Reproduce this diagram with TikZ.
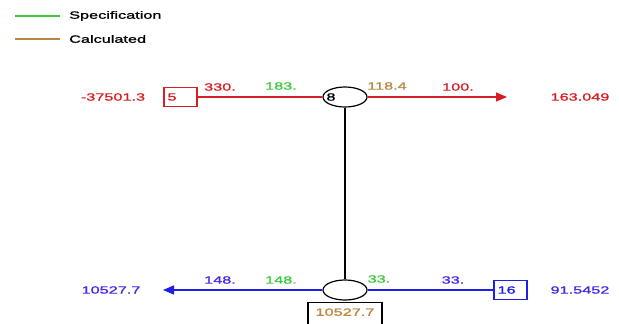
\documentclass[tikz,border=0pt]{standalone}
\usepackage{fontspec}
\setmainfont{Liberation Sans}[FakeStretch=1.55,FakeBold=1.2]
\usetikzlibrary{shapes.geometric,arrows.meta}
\definecolor{specgreen}{RGB}{60,200,60}
\definecolor{calcbrown}{RGB}{185,135,65}
\definecolor{streamred}{RGB}{215,30,35}
\definecolor{streamblue}{RGB}{30,30,235}
\definecolor{valblue}{RGB}{70,40,235}
\tikzset{
  val/.style={inner sep=0pt, font=\fontsize{10.5}{12}\selectfont},
  unitbox/.style={draw, rectangle, line width=1.2pt, minimum height=19pt, text width=26pt, inner sep=3.5pt, align=left, font=\fontsize{10.5}{12}\selectfont},
  mixer/.style={draw=black, ellipse, minimum width=44pt, minimum height=20pt, inner sep=0pt, line width=1.2pt},
  flowline/.style={line width=1.4pt},
  flowtip/.style={-{Triangle[length=11pt,width=9pt]}}
}
\begin{document}
\begin{tikzpicture}[x=1pt,y=-1pt]
\useasboundingbox (0,0) rectangle (619,324);
\fill[white] (0,0) rectangle (619,324);

% legend
\coordinate (lg1a) at (15,16); \coordinate (lg1b) at (60,16);
\coordinate (lg2a) at (15,39); \coordinate (lg2b) at (60,39);
\draw[specgreen, flowline] (lg1a) -- (lg1b);
\draw[calcbrown, flowline] (lg2a) -- (lg2b);
\node[val, anchor=west] (lgspec) at (69,16) {Specification};
\node[val, anchor=west] (lgcalc) at (69,39) {Calculated};

% upper stream
\node[unitbox, draw=streamred, text=streamred] (u5) at (180.5,97) {5};
\node[mixer] (m8) at (345,97) {};
\node[val] (t8) at (331,97) {8};
\coordinate (outR) at (507,97);
\draw[streamred, flowline] (u5.east) -- (m8.west);
\draw[streamred, flowline, flowtip] (m8.east) -- (outR);

\node[val, text=streamred] (q5) at (113,97) {-37501.3};
\node[val, text=streamred] (a1) at (220,87) {330.};
\node[val, text=specgreen] (a2) at (281,86) {183.};
\node[val, text=calcbrown] (a3) at (387,86) {118.4};
\node[val, text=streamred] (a4) at (458,87) {100.};
\node[val, text=streamred] (qR) at (580,97) {163.049};

% connection between mixers
\node[mixer] (m9) at (345,290) {};
\draw[black, line width=1.1pt] (m8.south) -- (m9.north);

% lower stream
\node[unitbox, draw=streamblue, text=streamblue] (u16) at (510.5,290) {16};
\coordinate (outL) at (163,290);
\draw[streamblue, flowline, flowtip] (m9.west) -- (outL);
\draw[streamblue, flowline] (m9.east) -- (u16.west);
\node[draw=black, line width=1.2pt, minimum width=74pt, minimum height=24pt, inner sep=0pt, anchor=north, text=calcbrown, font=\fontsize{10.5}{12}\selectfont, text depth=5pt] (q9) at (345,302) {10527.7};

\node[val, text=valblue] (qL) at (111,290) {10527.7};
\node[val, text=valblue] (b1) at (220,280) {148.};
\node[val, text=specgreen] (b2) at (281,280) {148.};
\node[val, text=specgreen] (b3) at (379,279) {33.};
\node[val, text=valblue] (b4) at (453,280) {33.};
\node[val, text=valblue] (q16) at (580,290) {91.5452};
\end{tikzpicture}
\end{document}
